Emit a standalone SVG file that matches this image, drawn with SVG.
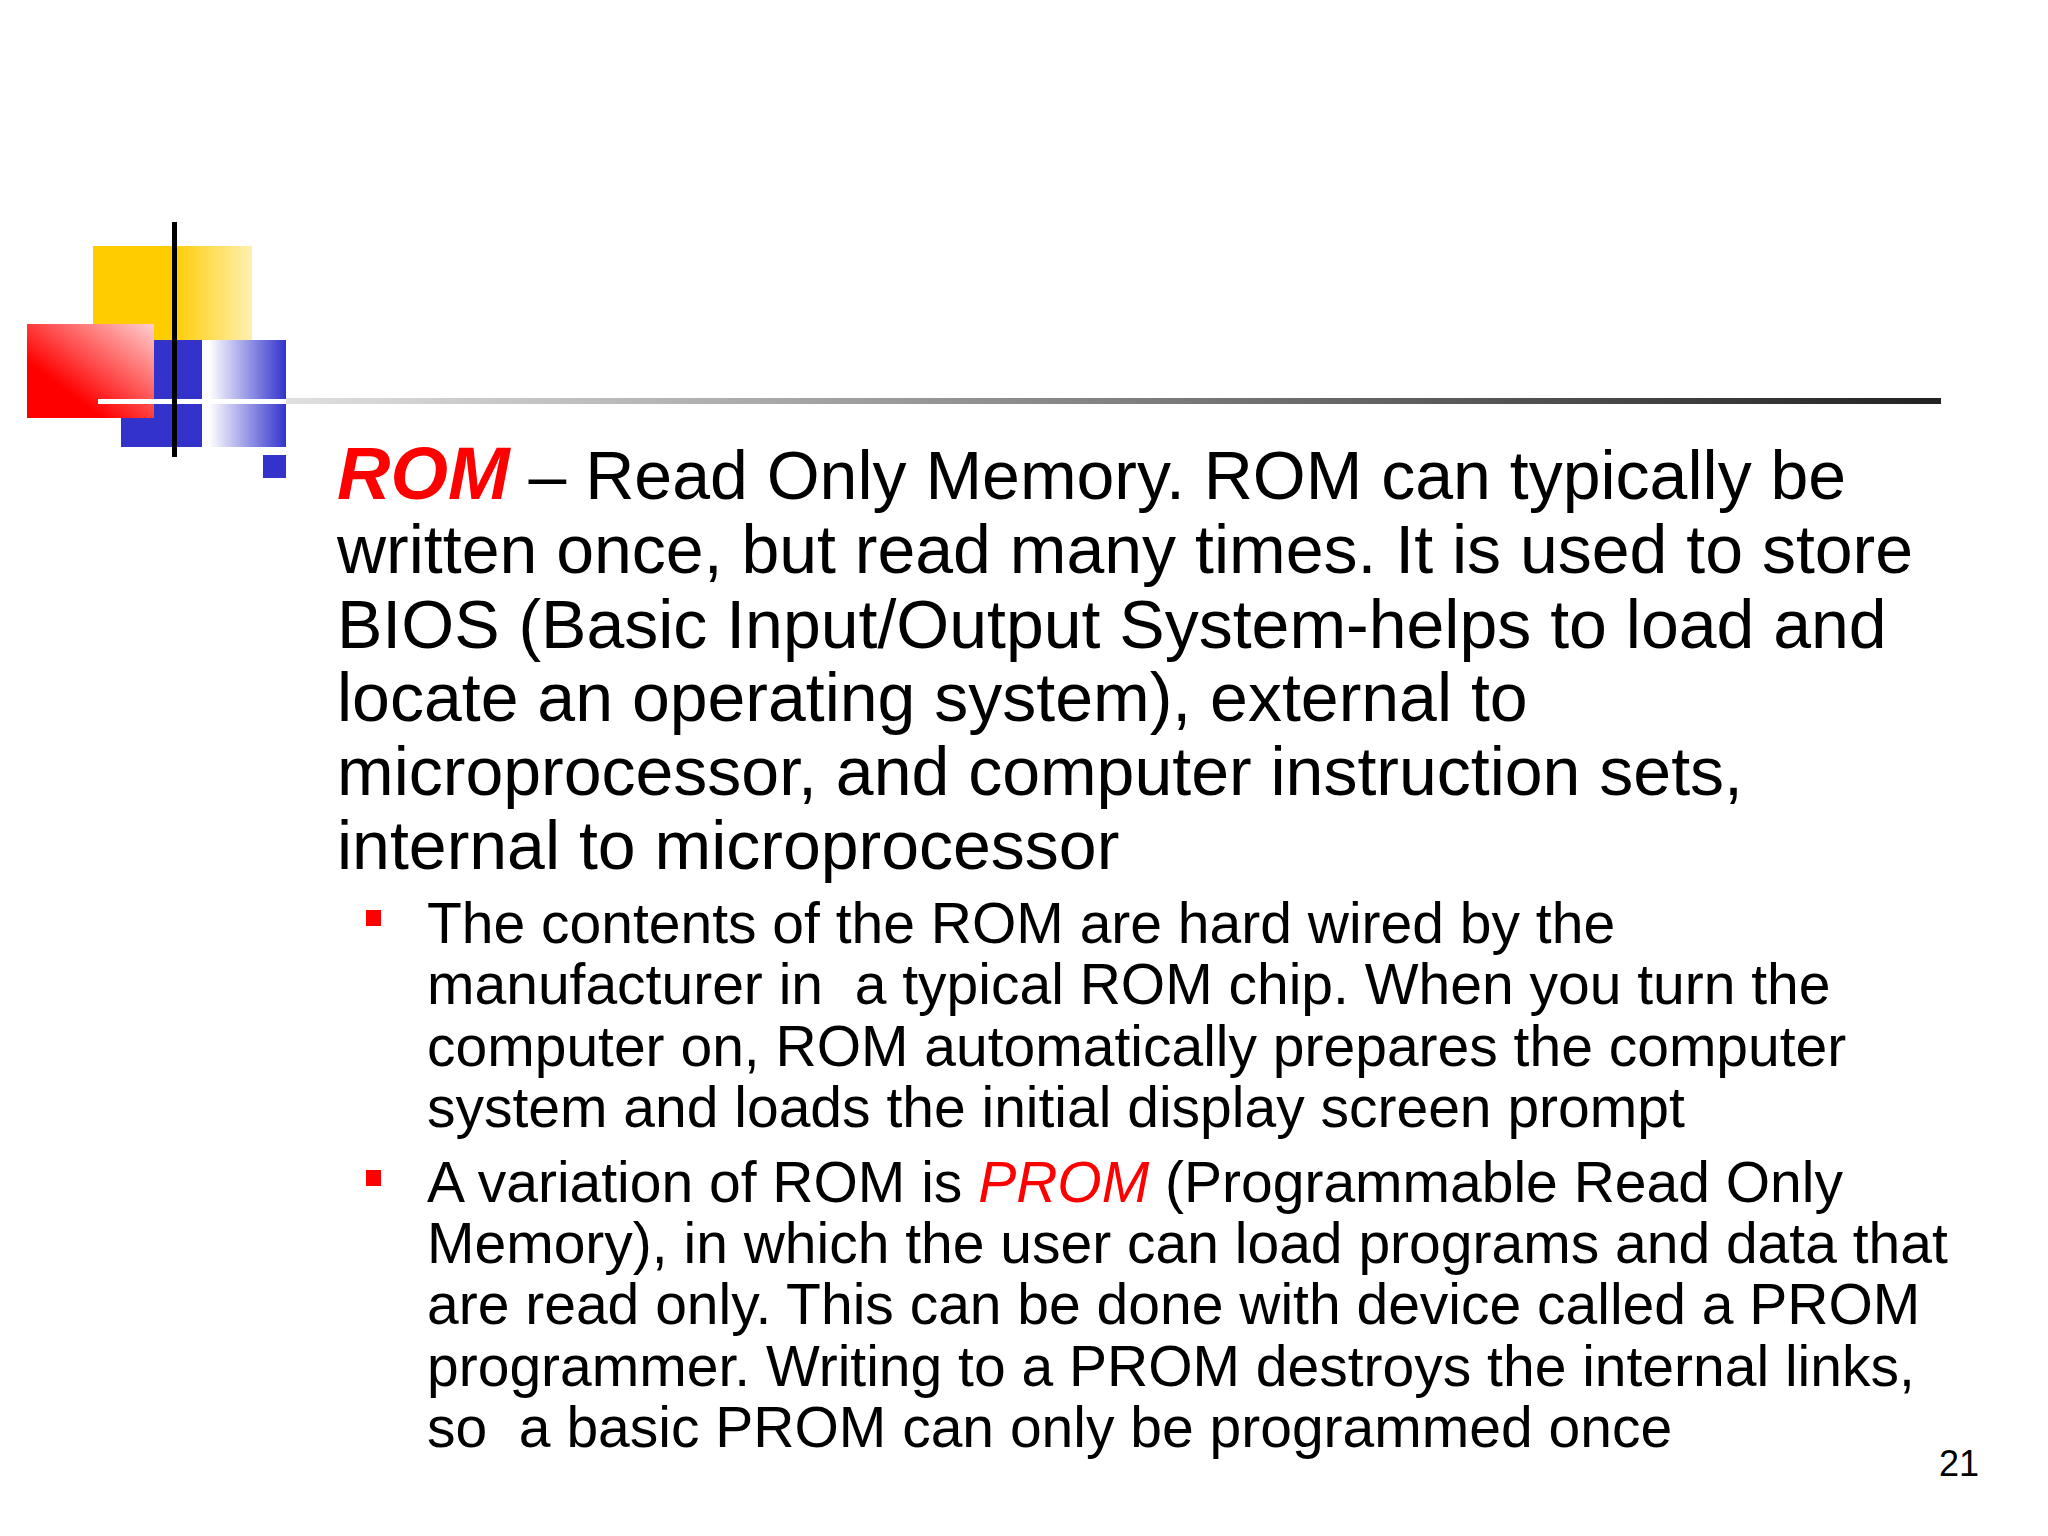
<svg xmlns="http://www.w3.org/2000/svg" width="2048" height="1536" viewBox="0 0 2048 1536">
<defs>
<linearGradient id="yg" x1="0" y1="0" x2="1" y2="0"><stop offset="0.5" stop-color="#ffcc00"/><stop offset="1" stop-color="#fff0b0"/></linearGradient>
<linearGradient id="rg" x1="0" y1="1" x2="1" y2="0"><stop offset="0.3" stop-color="#ff0000"/><stop offset="1" stop-color="#ffd0d0"/></linearGradient>
<linearGradient id="bg" x1="0" y1="0" x2="1" y2="0"><stop offset="0" stop-color="#ffffff"/><stop offset="1" stop-color="#3333cc"/></linearGradient>
<linearGradient id="lg" x1="0" y1="0" x2="1" y2="0"><stop offset="0" stop-color="#e0e0e0"/><stop offset="1" stop-color="#222222"/></linearGradient>
<style>
.m{font-family:"Liberation Sans",Arial,sans-serif;font-size:68px;fill:#000}
.s{font-family:"Liberation Sans",Arial,sans-serif;font-size:57px;fill:#000}
.r{fill:#ff0000;font-style:italic}
</style>
</defs>
<rect width="2048" height="1536" fill="#fff"/>
<g id="logo">
<rect x="93" y="246" width="159" height="94" fill="url(#yg)"/>
<rect x="121" y="340" width="81" height="107" fill="#3333cc"/>
<rect x="209" y="340" width="77" height="107" fill="url(#bg)"/>
<rect x="27" y="324" width="127" height="94" fill="url(#rg)"/>
<rect x="98" y="399" width="188" height="5" fill="#fff"/>
<rect x="286" y="398" width="1655" height="6" fill="url(#lg)"/>
<rect x="172" y="222" width="5" height="235" fill="#000"/>
</g>
<g id="text">
<rect x="263" y="455" width="23" height="23" fill="#3333cc"/>
<text class="m" x="337" y="499"><tspan class="r" font-weight="bold" font-size="74">ROM</tspan> – Read Only Memory. ROM can typically be</text>
<text class="m" x="337" y="573">written once, but read many times. It is used to store</text>
<text class="m" x="337" y="648">BIOS (Basic Input/Output System-helps to load and</text>
<text class="m" x="337" y="721">locate an operating system), external to</text>
<text class="m" x="337" y="795">microprocessor, and computer instruction sets,</text>
<text class="m" x="337" y="869">internal to microprocessor</text>
<rect x="366" y="910" width="15" height="16" fill="#ff0000"/>
<text class="s" x="427" y="943">The contents of the ROM are hard wired by the</text>
<text class="s" x="427" y="1004" xml:space="preserve">manufacturer in  a typical ROM chip. When you turn the</text>
<text class="s" x="427" y="1066">computer on, ROM automatically prepares the computer</text>
<text class="s" x="427" y="1127">system and loads the initial display screen prompt</text>
<rect x="366" y="1170" width="15" height="16" fill="#ff0000"/>
<text class="s" x="427" y="1202">A variation of ROM is <tspan class="r">PROM</tspan> (Programmable Read Only</text>
<text class="s" x="427" y="1263">Memory), in which the user can load programs and data that</text>
<text class="s" x="427" y="1324">are read only. This can be done with device called a PROM</text>
<text class="s" x="427" y="1386">programmer. Writing to a PROM destroys the internal links,</text>
<text class="s" x="427" y="1447" xml:space="preserve">so  a basic PROM can only be programmed once</text>
<text x="1939" y="1476" font-family="Liberation Sans,Arial,sans-serif" font-size="36">21</text>
</g>
</svg>
